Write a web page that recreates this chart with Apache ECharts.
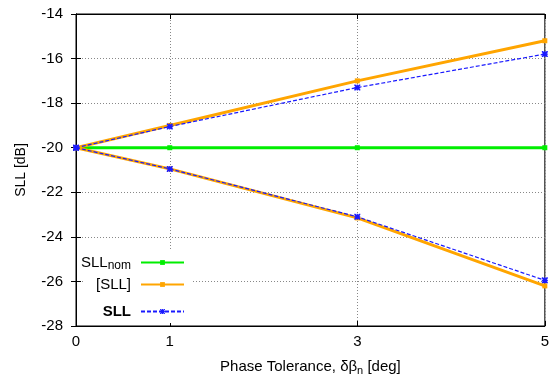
<!DOCTYPE html>
<html><head><meta charset="utf-8">
<script src="https://cdn.jsdelivr.net/npm/echarts@6/dist/echarts.min.js"></script>
<style>html,body{margin:0;padding:0;background:#fff}#c{width:552px;height:381px}</style>
</head><body><div id="c"></div>
<script>
var xValues = [0, 1, 3, 5];
var xTicks = [0, 1, 3, 5];
var yTicks = [-28, -26, -24, -22, -20, -18, -16, -14];
var sllNom = [-20, -20, -20, -20];
var sllUpper = [-20, -19.0, -17.0, -15.2];
var sllLower = [-20, -20.95, -23.15, -26.2];
var sllEstUpper = [-20, -19.05, -17.3, -15.8];
var sllEstLower = [-20, -20.95, -23.1, -25.95];

function pairs(v){ return xValues.map(function(x,i){ return [x, v[i]]; }); }

var font = "'Liberation Sans', Arial, sans-serif";
var star = 'path://M0,0L2,0L5,3L8,0L10,0L10,2L7,5L10,8L10,10L8,10L5,7L2,10L0,10L0,8L3,5L0,2Z M4,0L6,0L6,4L10,4L10,6L6,6L6,10L4,10L4,6L0,6L0,4L4,4Z';
var chart = echarts.init(document.getElementById('c'));
var gridLine = {show:true, lineStyle:{color:'#888', type:[1,2], width:1}};
var legendText = {fontFamily:font, fontSize:15, color:'#000',
  rich:{
    m:{fontFamily:font, fontSize:15, color:'#000'},
    n:{fontFamily:font, fontSize:15, color:'#000', padding:[0,5,0,0]},
    s:{fontFamily:font, fontSize:12, color:'#000', verticalAlign:'bottom', padding:[7,5,0,0]},
    b:{fontFamily:font, fontSize:15, color:'#000', fontWeight:'bold', padding:[0,5,0,0]}
  }};
function legendFmt(n){
  if(n==='SLLnom') return '{m|SLL}{s|nom}';
  if(n==='SLL') return '{b|SLL}';
  return '{n|'+n+'}';
}
function mkLegend(name, top){
  return {orient:'vertical', right:367, top:top, align:'right',
    itemWidth:43, itemHeight:6, padding:0, z:5,
    data:[name], formatter:legendFmt, textStyle:legendText};
}
chart.setOption({
  animation:false,
  backgroundColor:'#fff',
  grid:{left:76, right:6, top:14, bottom:54, show:true, borderColor:'#000', borderWidth:1, backgroundColor:'transparent'},
  graphic:[{type:'rect', left:83, top:249, shape:{width:110, height:74}, style:{fill:'#fff'}, z:1}],
  xAxis:[{
    type:'value', min:0, max:5, interval:1,
    name:'Phase Tolerance, δβ{s|n} [deg]', nameLocation:'middle', nameGap:32,
    nameTextStyle:{fontFamily:font, fontSize:15, color:'#000', rich:{s:{fontSize:11, verticalAlign:'bottom', padding:[7,0,0,0], fontFamily:font}}},
    axisLine:{show:true, lineStyle:{color:'#000'}},
    axisTick:{show:true, inside:true, length:5, customValues:xTicks, lineStyle:{color:'#000'}},
    axisLabel:{customValues:xTicks, fontFamily:font, fontSize:15, color:'#000', margin:8},
    splitLine:gridLine
  },{
    type:'value', min:0, max:5, position:'top',
    axisLine:{show:true, lineStyle:{color:'#000'}},
    axisTick:{show:true, inside:true, length:5, customValues:xTicks, lineStyle:{color:'#000'}},
    axisLabel:{show:false}, splitLine:{show:false}
  }],
  yAxis:[{
    type:'value', min:-28, max:-14, interval:2,
    name:'SLL [dB]', nameLocation:'middle', nameGap:48,
    nameTextStyle:{fontFamily:font, fontSize:14, color:'#000'},
    axisLine:{show:true, lineStyle:{color:'#000'}},
    axisTick:{show:true, inside:true, length:5, lineStyle:{color:'#000'}},
    axisLabel:{fontFamily:font, fontSize:15, color:'#000', margin:13},
    splitLine:gridLine
  },{
    type:'value', min:-28, max:-14, interval:2, position:'right',
    axisLine:{show:true, lineStyle:{color:'#000'}},
    axisTick:{show:true, inside:true, length:5, lineStyle:{color:'#000'}},
    axisLabel:{show:false}, splitLine:{show:false}
  }],
  legend:[mkLegend('SLLnom', 255), mkLegend('[SLL]', 277), mkLegend('SLL', 304)],
  series:[
    {name:'SLLnom', type:'line', data:pairs(sllNom), symbol:'rect', symbolSize:5,
     itemStyle:{color:'#00ee00'}, lineStyle:{color:'#00ee00', width:3}, z:2},
    {name:'[SLL]', type:'line', data:pairs(sllUpper), symbol:'rect', symbolSize:5,
     itemStyle:{color:'#ffa500'}, lineStyle:{color:'#ffa500', width:3}, z:3},
    {name:'[SLL]', type:'line', data:pairs(sllLower), symbol:'rect', symbolSize:5,
     itemStyle:{color:'#ffa500'}, lineStyle:{color:'#ffa500', width:3}, z:3},
    {name:'SLL', type:'line', data:pairs(sllEstUpper), symbol:star, symbolSize:6,
     itemStyle:{color:'#1a1aff'}, lineStyle:{color:'#1a1aff', width:1.2, type:[4,2]}, z:4},
    {name:'SLL', type:'line', data:pairs(sllEstLower), symbol:star, symbolSize:6,
     itemStyle:{color:'#1a1aff'}, lineStyle:{color:'#1a1aff', width:1.2, type:[4,2]}, z:4}
  ]
});
</script></body></html>
